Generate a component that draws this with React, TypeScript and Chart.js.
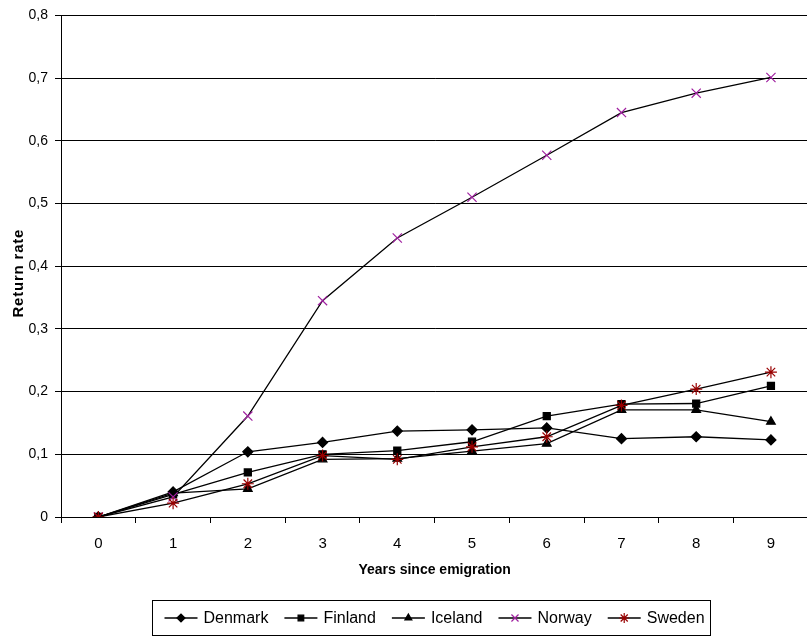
import React, { useEffect, useRef } from "react";
import { Chart, registerables } from "chart.js";
import { drawPoint } from "chart.js/helpers";

Chart.register(...registerables);

const years = ["0", "1", "2", "3", "4", "5", "6", "7", "8", "9"];

const denmark = [0, 0.04, 0.104, 0.119, 0.137, 0.139, 0.142, 0.125, 0.128, 0.123];
const finland = [0, 0.036, 0.071, 0.1, 0.106, 0.12, 0.161, 0.18, 0.181, 0.209];
const iceland = [0, 0.038, 0.045, 0.092, 0.093, 0.105, 0.117, 0.171, 0.171, 0.152];
const norway = [0, 0.032, 0.161, 0.345, 0.445, 0.51, 0.577, 0.645, 0.676, 0.701];
const sweden = [0, 0.022, 0.053, 0.098, 0.092, 0.112, 0.128, 0.178, 0.204, 0.231];

const yMin = 0;
const yMax = 0.8;
const yStep = 0.1;

const xTitle = "Years since emigration";
const yTitle = "Return rate";

const FONT = "'Liberation Sans', Arial, Helvetica, sans-serif";

const formatTick = (v: number) => (v === 0 ? "0" : Number(v).toFixed(1).replace(".", ","));

const yTitlePlugin = {
  id: "yTitleSpaced",
  afterDraw(chart: any) {
    const ctx: CanvasRenderingContext2D = chart.ctx;
    const area = chart.chartArea;
    ctx.save();
    ctx.font = `bold 15px ${FONT}`;
    (ctx as any).letterSpacing = "0.8px";
    ctx.fillStyle = "#000";
    ctx.textAlign = "center";
    ctx.textBaseline = "middle";
    ctx.translate(19, (area.top + area.bottom) / 2 + 7);
    ctx.rotate(-Math.PI / 2);
    ctx.fillText(yTitle, 0, 0);
    ctx.restore();
  },
};

const boxedLegend = {
  id: "boxedLegend",
  afterDraw(chart: any) {
    const ctx: CanvasRenderingContext2D = chart.ctx;
    ctx.save();
    ctx.font = `16px ${FONT}`;
    const lineLen = 33;
    const gap = 6;
    const spacing = 16;
    const padL = 12;
    const padR = 6;
    const items = chart.data.datasets.map((ds: any) => ({ ds, w: ctx.measureText(ds.label).width }));
    const total =
      items.reduce((s: number, it: any) => s + lineLen + gap + it.w, 0) + spacing * (items.length - 1) + padL + padR;
    const left = Math.round(431 - total / 2) + 0.5;
    const top = 600.5;
    const h = 35;
    ctx.strokeStyle = "#000";
    ctx.lineWidth = 1;
    ctx.strokeRect(left, top, Math.round(total), h);
    let x = left + padL;
    const cy = Math.round(top + h / 2);
    for (const it of items) {
      ctx.beginPath();
      ctx.moveTo(x, cy);
      ctx.lineTo(x + lineLen, cy);
      ctx.strokeStyle = "#000";
      ctx.lineWidth = 1.3;
      ctx.stroke();
      ctx.fillStyle = it.ds.pointBackgroundColor;
      ctx.strokeStyle = it.ds.pointBorderColor;
      ctx.lineWidth = 1.2;
      drawPoint(ctx, { pointStyle: it.ds.pointStyle, rotation: 0, radius: it.ds.legendRadius, borderWidth: 1.2 }, x + lineLen / 2, cy);
      ctx.fillStyle = "#000";
      ctx.textBaseline = "middle";
      ctx.textAlign = "left";
      ctx.fillText(it.ds.label, x + lineLen + gap, cy + 1);
      x += lineLen + gap + it.w + spacing;
    }
    ctx.restore();
  },
};

export default function App() {
  const ref = useRef<HTMLCanvasElement | null>(null);

  useEffect(() => {
    if (!ref.current) return;
    const mk = (label: string, data: number[], style: string, radius: number, color: string, fill: string, order: number, legendRadius: number) => ({
      label,
      data,
      borderColor: "#000",
      backgroundColor: fill,
      borderWidth: 1.3,
      pointStyle: style,
      pointRadius: radius,
      pointHoverRadius: radius,
      pointBorderColor: color,
      pointBackgroundColor: fill,
      pointBorderWidth: 1.2,
      tension: 0,
      fill: false,
      order,
      legendRadius,
    });
    const chart = new Chart(ref.current, {
      type: "line",
      data: {
        labels: years,
        datasets: [
          mk("Denmark", denmark, "rectRot", 5, "#000", "#000", 4, 4),
          mk("Finland", finland, "rect", 5, "#000", "#000", 3, 4),
          mk("Iceland", iceland, "triangle", 5, "#000", "#000", 2, 4),
          mk("Norway", norway, "crossRot", 6.5, "#A020A0", "#A020A0", 1, 5),
          mk("Sweden", sweden, "star", 6, "#990000", "#990000", 0, 5),
        ] as any,
      },
      options: {
        animation: false,
        responsive: false,
        maintainAspectRatio: false,
        devicePixelRatio: 1,
        layout: { padding: { top: 14, right: 0, bottom: 53, left: 0 } },
        plugins: {
          legend: { display: false },
          tooltip: { enabled: false },
        },
        scales: {
          x: {
            type: "category",
            offset: true,
            grid: { offset: true, drawOnChartArea: false, drawTicks: true, tickLength: 6, color: "#000", lineWidth: 1 },
            border: { display: true, color: "#000", width: 1 },
            ticks: { color: "#000", font: { family: FONT, size: 15 }, padding: 12, maxRotation: 0, autoSkip: false },
            title: {
              display: true,
              text: xTitle,
              color: "#000",
              font: { family: FONT, size: 14, weight: "bold" },
              padding: { top: 4, bottom: 5 },
            },
            afterFit: (s: any) => {
              s.height = 67;
            },
          },
          y: {
            min: yMin,
            max: yMax,
            ticks: {
              stepSize: yStep,
              color: "#000",
              font: { family: FONT, size: 14 },
              padding: 7,
              callback: (v: any) => formatTick(Number(v)),
            },
            grid: { color: "#000", lineWidth: 1, tickLength: 6, drawTicks: true },
            border: { display: true, color: "#000", width: 1 },
            title: { display: false },
            afterFit: (s: any) => {
              s.width = 61;
            },
          },
        },
      },
      plugins: [yTitlePlugin, boxedLegend],
    });
    return () => chart.destroy();
  }, []);

  return (
    <div style={{ position: "fixed", left: 0, top: 0, width: 807, height: 637, overflow: "hidden", background: "#fff" }}>
      <canvas ref={ref} width={816} height={637} style={{ width: 816, height: 637, display: "block" }} />
    </div>
  );
}
